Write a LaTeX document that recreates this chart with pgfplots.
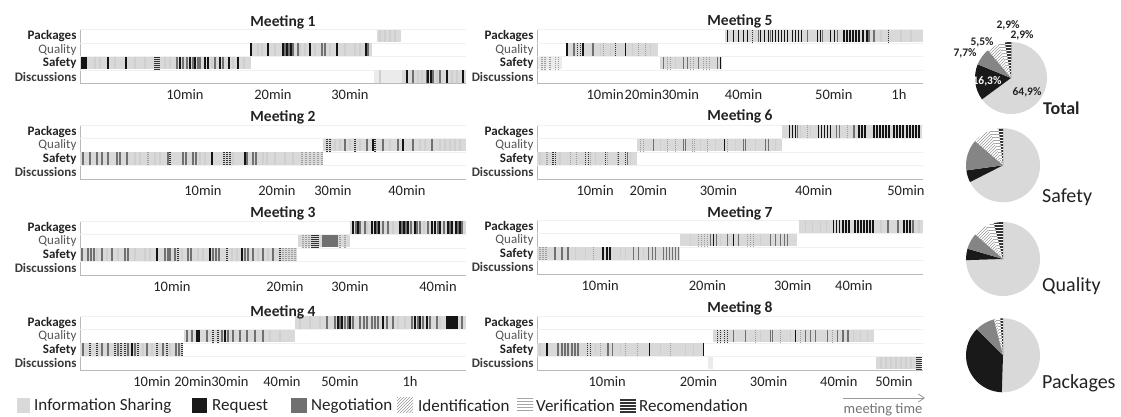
\documentclass[border=0pt]{standalone}
\usepackage{pgfplots}
\pgfplotsset{compat=1.18}
\usepackage{fontspec}
\setmainfont{Carlito}
\usetikzlibrary{patterns,arrows.meta}
\definecolor{infog}{HTML}{D9D9D9}
\definecolor{infoL}{HTML}{EBEBEB}
\definecolor{negg}{HTML}{707070}
\definecolor{piegray}{HTML}{858585}
\definecolor{discc}{HTML}{3A3A3A}
\definecolor{qualc}{HTML}{555555}
\definecolor{txt}{HTML}{222222}
\pgfplotsset{
  tl/.style={scale only axis, width=386pt, height=54pt, anchor=south west,
    ymin=0, ymax=4, ytick={0.5,1.5,2.5,3.5},
    yticklabels={{\textcolor{discc}{\bfseries Discussions}},{\bfseries Safety},{\textcolor{qualc}{Quality}},{\bfseries Packages}},
    yticklabel style={font=\fontsize{13}{13}\selectfont, text=txt},
    xticklabel style={font=\fontsize{14.5}{15}\selectfont, text=txt, yshift=-2.5pt},
    major tick length=0pt,
    axis x line*=bottom, axis y line*=left,
    axis line style={draw=gray!55, -},
    extra y ticks={1,2,3,4}, extra y tick labels={},
    extra y tick style={grid=major, major grid style={draw=gray!12}},
  },
  band/.style={draw=infog, line width=12.5pt, forget plot},
  bandL/.style={draw=infoL, line width=12.5pt, forget plot},
  stripe/.style={only marks, mark=|, mark size=6.25pt, forget plot},
  sR/.style={stripe, mark options={draw=black!92, line width=1.4pt, solid}},
  sN/.style={stripe, mark options={draw=negg, line width=1.4pt, solid}},
  sD/.style={stripe, mark options={draw=black!80, line width=1.1pt, dash pattern=on 1pt off 1pt}},
  sV/.style={stripe, mark options={draw=gray!75, line width=1.1pt, dash pattern=on 1pt off 1pt}},
  sT/.style={stripe, mark options={draw=gray!38, line width=1.2pt, solid}},
  pie/.style={hide axis, scale only axis, width=74pt, height=74pt, anchor=center,
    xmin=-1, xmax=1, ymin=-1, ymax=1, clip=false},
}
% one sector: radius, start percent, percent, style
\newcommand{\sector}[4]{\fill[#4] (axis cs:0,0) -- ++({90-3.6*(#2)}:#1pt) arc[start angle={90-3.6*(#2)}, end angle={90-3.6*((#2)+(#3))}, radius=#1pt] -- cycle;}
% pie: radius, info, request, negotiation, identification, verification, recomendation
\newcommand{\pie}[7]{%
  \sector{#1}{0}{#2}{infog}%
  \sector{#1}{#2}{#3}{black!90}%
  \sector{#1}{#2+#3}{#4}{piegray}%
  \sector{#1}{#2+#3+#4}{#5}{pattern=north east lines, pattern color=gray!80}%
  \sector{#1}{#2+#3+#4+#5}{#6}{pattern=horizontal lines, pattern color=gray!70}%
  \sector{#1}{#2+#3+#4+#5+#6}{#7}{black!80}%
  \sector{#1}{#2+#3+#4+#5+#6}{#7}{pattern=horizontal lines, pattern color=white}%
}
\begin{document}
\begin{tikzpicture}[x=1pt, y=1pt]
\useasboundingbox (0,0) rectangle (1121,417);

% ---------------- Meeting 1 ----------------
\begin{axis}[tl, at={(80pt,333.5pt)}, xmin=80, xmax=466,
  xtick={185,273,350}, xticklabels={10min,20min,30min}]
\addplot[band] coordinates {(80,1.5) (251,1.5)};
\addplot[band] coordinates {(250,2.5) (372,2.5)};
\addplot[band] coordinates {(377,3.5) (401,3.5)};
\addplot[bandL] coordinates {(374,0.5) (402,0.5)};
\addplot[band] coordinates {(402,0.5) (466,0.5)};
\addplot[sT] coordinates {(95,1.5)(100,1.5)(115,1.5)(135,1.5)(145,1.5)(165,1.5)(170,1.5)(212,1.5)(233,1.5)(244,1.5)
  (258,2.5)(262,2.5)(275,2.5)(300,2.5)(305,2.5)(315,2.5)(330,2.5)(345,2.5)(355,2.5)(360,2.5)
  (380,3.5)(385,3.5)(390,3.5)(395,3.5)
  (380,0.5)(418,0.5)(422,0.5)(437,0.5)(452,0.5)(457,0.5)};
\addplot[sN] coordinates {(177,1.5)(183,1.5)(187,1.5)(193,1.5)(198,1.5)(200,1.5)(215,1.5)(223,1.5)
  (285,2.5)(289,2.5)(293,2.5)(298,2.5)(322,2.5)(325,2.5)(368,2.5)
  (413,0.5)(427,0.5)(433,0.5)(440,0.5)};
\addplot[sD] coordinates {(155,1.5)(157,1.5)(159,1.5)};
\addplot[sR] coordinates {(82,1.5)(84,1.5)(86,1.5)(108,1.5)(126,1.5)(180,1.5)(190,1.5)(195,1.5)(205,1.5)(208,1.5)(220,1.5)(229,1.5)(238,1.5)
  (251,2.5)(268,2.5)(283,2.5)(287,2.5)(291,2.5)(310,2.5)(337,2.5)(366,2.5)
  (407,0.5)(428,0.5)(431,0.5)(447,0.5)(463,0.5)};
\end{axis}

% ---------------- Meeting 2 ----------------
\begin{axis}[tl, at={(80pt,238pt)}, xmin=80, xmax=466,
  xtick={203,277,333,407}, xticklabels={10min,20min,30min,40min}]
\addplot[band] coordinates {(80,1.5) (323,1.5)};
\addplot[band] coordinates {(323,2.5) (466,2.5)};
\addplot[sT] coordinates {(135,1.5)(140,1.5)(155,1.5)(160,1.5)(200,1.5)(205,1.5)(233,1.5)(263,1.5)(267,1.5)(275,1.5)(285,1.5)(293,1.5)
  (335,2.5)(340,2.5)(350,2.5)(360,2.5)(390,2.5)(420,2.5)(425,2.5)(440,2.5)(445,2.5)(450,2.5)(455,2.5)(460,2.5)};
\addplot[sV] coordinates {(148,1.5)(302,1.5)(306,1.5)(310,1.5)(314,1.5)(318,1.5)(322,1.5)};
\addplot[sN] coordinates {(83,1.5)(90,1.5)(97,1.5)(102,1.5)(108,1.5)(117,1.5)(120,1.5)(127,1.5)(168,1.5)(183,1.5)(186,1.5)(193,1.5)(196,1.5)(247,1.5)(253,1.5)(256,1.5)
  (345,2.5)(367,2.5)(383,2.5)(398,2.5)(413,2.5)(432,2.5)};
\addplot[sD] coordinates {(170,1.5)(224,1.5)(227,1.5)(230,1.5)
  (327,2.5)(330,2.5)(355,2.5)(375,2.5)};
\addplot[sR] coordinates {(212,1.5)(245,1.5)(373,2.5)(403,2.5)};
\end{axis}

% ---------------- Meeting 3 ----------------
\begin{axis}[tl, at={(80pt,142pt)}, xmin=80, xmax=466,
  xtick={172,285,350,438}, xticklabels={10min,20min,30min,40min}]
\addplot[band] coordinates {(80,1.5) (297,1.5)};
\addplot[band] coordinates {(298,2.5) (350,2.5)};
\addplot[band] coordinates {(350,3.5) (466,3.5)};
\addplot[sT] coordinates {(97,1.5)(107,1.5)(118,1.5)(135,1.5)(145,1.5)(150,1.5)(182,1.5)(198,1.5)(203,1.5)(232,1.5)(237,1.5)(258,1.5)(268,1.5)
  (367,3.5)(393,3.5)(424,3.5)};
\addplot[sV] coordinates {(283,1.5)(286,1.5)(289,1.5)(292,1.5)(295,1.5)
  (303,2.5)(306,2.5)(309,2.5)(340,2.5)(345,2.5)};
\addplot[sN] coordinates {(82,1.5)(88,1.5)(91,1.5)(94,1.5)(102,1.5)(112,1.5)(125,1.5)(128,1.5)(165,1.5)(168,1.5)(170,1.5)(175,1.5)(188,1.5)(191,1.5)(213,1.5)(216,1.5)(219,1.5)(245,1.5)(248,1.5)(253,1.5)(263,1.5)(273,1.5)
  (323,2.5)(325,2.5)(327,2.5)(329,2.5)(331,2.5)(333,2.5)(335,2.5)(337,2.5)
  (356,3.5)(360,3.5)(365,3.5)(377,3.5)(383,3.5)(388,3.5)(402,3.5)(406,3.5)(411,3.5)(417,3.5)(420,3.5)(428,3.5)(438,3.5)(444,3.5)(450,3.5)(458,3.5)(462,3.5)};
\addplot[sD] coordinates {(178,1.5)(227,1.5)(280,1.5)
  (312,2.5)(314,2.5)(316,2.5)(318,2.5)};
\addplot[sR] coordinates {(157,1.5)(210,1.5)(242,1.5)
  (353,3.5)(358,3.5)(372,3.5)(375,3.5)(379,3.5)(400,3.5)(404,3.5)(408,3.5)(415,3.5)(432,3.5)(435,3.5)(440,3.5)(448,3.5)(452,3.5)(456,3.5)(460,3.5)};
\end{axis}

% ---------------- Meeting 4 ----------------
\begin{axis}[tl, at={(80pt,47pt)}, xmin=80, xmax=466,
  xtick={152,193,230,282,340,410}, xticklabels={10min,20min,30min,40min,50min,1h}]
\addplot[band] coordinates {(80,1.5) (183,1.5)};
\addplot[band] coordinates {(184,2.5) (295,2.5)};
\addplot[band] coordinates {(295,3.5) (466,3.5)};
\addplot[sT] coordinates {(143,1.5)(152,1.5)(170,1.5)(270,2.5)(280,2.5)
  (300,3.5)(310,3.5)(320,3.5)(398,3.5)(405,3.5)(440,3.5)};
\addplot[sD] coordinates {(90,1.5)(97,1.5)(115,1.5)(121,1.5)(125,1.5)(138,1.5)(157,1.5)(167,1.5)(182,1.5)
  (213,2.5)(218,2.5)};
\addplot[sN] coordinates {(83,1.5)(102,1.5)(108,1.5)(118,1.5)(128,1.5)(135,1.5)(147,1.5)(163,1.5)(176,1.5)(179,1.5)
  (187,2.5)(192,2.5)(207,2.5)(222,2.5)(228,2.5)(233,2.5)(240,2.5)(247,2.5)(255,2.5)(263,2.5)
  (327,3.5)(335,3.5)(340,3.5)(345,3.5)(348,3.5)(353,3.5)(360,3.5)(364,3.5)(367,3.5)(372,3.5)(375,3.5)(378,3.5)(387,3.5)(393,3.5)(412,3.5)(418,3.5)(423,3.5)(430,3.5)(437,3.5)(462,3.5)};
\addplot[sR] coordinates {(132,1.5)(197,2.5)(199,2.5)(225,2.5)
  (338,3.5)(342,3.5)(350,3.5)(383,3.5)(415,3.5)(420,3.5)(427,3.5)(447,3.5)(449,3.5)(451,3.5)(453,3.5)(455,3.5)(457,3.5)};
\end{axis}

% ---------------- Meeting 5 ----------------
\begin{axis}[tl, at={(537pt,333.5pt)}, xmin=537, xmax=922,
  xtick={605,643,680,743,833,898}, xticklabels={10min,20min,30min,40min,50min,1h}]
\addplot[bandL] coordinates {(538,1.5) (562,1.5)};
\addplot[band] coordinates {(660,1.5) (722,1.5)};
\addplot[band] coordinates {(566,2.5) (658,2.5)};
\addplot[band] coordinates {(725,3.5) (922,3.5)};
\addplot[sT] coordinates {(600,2.5)(610,2.5)(632,2.5)(650,2.5)(675,1.5)(880,3.5)(900,3.5)(910,3.5)};
\addplot[sV] coordinates {(542,1.5)(545,1.5)(550,1.5)(555,1.5)(558,1.5)(667,1.5)(670,1.5)(690,1.5)(693,1.5)(703,1.5)(706,1.5)(709,1.5)
  (603,2.5)(638,2.5)(645,2.5)};
\addplot[sN] coordinates {(663,1.5)(683,1.5)(687,1.5)(698,1.5)(717,1.5)
  (574,2.5)(593,2.5)
  (758,3.5)(770,3.5)(807,3.5)(822,3.5)(837,3.5)(868,3.5)(873,3.5)};
\addplot[sD] coordinates {(577,2.5)(580,2.5)(615,2.5)(752,3.5)(888,3.5)};
\addplot[sR] coordinates {(720,1.5)(567,2.5)(583,2.5)(625,2.5)
  (727,3.5)(733,3.5)(738,3.5)(743,3.5)(747,3.5)(760,3.5)(764,3.5)(768,3.5)(772,3.5)(775,3.5)(778,3.5)(781,3.5)(784,3.5)(787,3.5)(792,3.5)(795,3.5)(798,3.5)(801,3.5)(817,3.5)(820,3.5)(830,3.5)(834,3.5)(843,3.5)(846,3.5)(849,3.5)(852,3.5)(855,3.5)(858,3.5)(862,3.5)(866,3.5)};
\end{axis}

% ---------------- Meeting 6 ----------------
\begin{axis}[tl, at={(537pt,238pt)}, xmin=537, xmax=922,
  xtick={595,648,718,813,905}, xticklabels={10min,20min,30min,40min,50min}]
\addplot[band] coordinates {(537,1.5) (637,1.5)};
\addplot[band] coordinates {(637,2.5) (781,2.5)};
\addplot[band] coordinates {(781,3.5) (921,3.5)};
\addplot[sT] coordinates {(540,1.5)(560,1.5)(595,1.5)(630,1.5)
  (660,2.5)(700,2.5)(715,2.5)(735,2.5)(755,2.5)(775,2.5)(800,3.5)(810,3.5)};
\addplot[sV] coordinates {(547,1.5)(570,1.5)(576,1.5)(590,1.5)(607,1.5)(617,1.5)
  (640,2.5)(643,2.5)(667,2.5)(675,2.5)(692,2.5)(694,2.5)(707,2.5)(727,2.5)(807,3.5)(847,3.5)};
\addplot[sD] coordinates {(553,1.5)(555,1.5)(585,1.5)(588,1.5)(605,1.5)(618,1.5)(625,1.5)};
\addplot[sN] coordinates {(627,1.5)(653,2.5)(683,2.5)(685,2.5)(743,2.5)(745,2.5)(765,2.5)(768,2.5)
  (797,3.5)(836,3.5)(839,3.5)(853,3.5)};
\addplot[sR] coordinates {(724,2.5)
  (789,3.5)(792,3.5)(795,3.5)(818,3.5)(821,3.5)(824,3.5)(827,3.5)(830,3.5)(858,3.5)(861,3.5)(864,3.5)
  (873,3.5)(876,3.5)(879,3.5)(882,3.5)(885,3.5)(888,3.5)(893,3.5)(896,3.5)(899,3.5)(902,3.5)(906,3.5)(909,3.5)(912,3.5)(915,3.5)(918,3.5)};
\end{axis}

% ---------------- Meeting 7 ----------------
\begin{axis}[tl, at={(537pt,143pt)}, xmin=537, xmax=922,
  xtick={600,707,792,853}, xticklabels={10min,20min,30min,40min}]
\addplot[band] coordinates {(537,1.5) (680,1.5)};
\addplot[band] coordinates {(680,2.5) (796,2.5)};
\addplot[band] coordinates {(798,3.5) (922,3.5)};
\addplot[sT] coordinates {(575,1.5)(585,1.5)(620,1.5)(625,1.5)(643,1.5)(690,2.5)(720,2.5)(760,2.5)
  (805,3.5)(812,3.5)(820,3.5)(826,3.5)(880,3.5)(918,3.5)};
\addplot[sV] coordinates {(540,1.5)(543,1.5)(546,1.5)(593,1.5)
  (698,2.5)(701,2.5)(704,2.5)(707,2.5)(747,2.5)(750,2.5)(753,2.5)};
\addplot[sN] coordinates {(555,1.5)(562,1.5)(568,1.5)(633,1.5)(638,1.5)(648,1.5)(652,1.5)(655,1.5)(663,1.5)(666,1.5)(669,1.5)(672,1.5)(675,1.5)(678,1.5)
  (710,2.5)(716,2.5)(727,2.5)(738,2.5)(770,2.5)(775,2.5)(780,2.5)(784,2.5)(787,2.5)
  (887,3.5)(897,3.5)(912,3.5)};
\addplot[sR] coordinates {(603,1.5)(607,1.5)(610,1.5)(713,2.5)(733,2.5)
  (833,3.5)(836,3.5)(839,3.5)(842,3.5)(845,3.5)(848,3.5)(854,3.5)(857,3.5)(860,3.5)(863,3.5)(866,3.5)(869,3.5)(872,3.5)(903,3.5)(906,3.5)(909,3.5)};
\end{axis}

% ---------------- Meeting 8 ----------------
\begin{axis}[tl, at={(537pt,47pt)}, xmin=537, xmax=922,
  xtick={607,698,768,838,893}, xticklabels={10min,20min,30min,40min,50min}]
\addplot[band] coordinates {(537,1.5) (703,1.5)};
\addplot[bandL] coordinates {(708,0.5) (713,0.5)};
\addplot[band] coordinates {(713,2.5) (873,2.5)};
\addplot[band] coordinates {(875,0.5) (920,0.5)};
\addplot[sT] coordinates {(540,1.5)(595,1.5)(620,1.5)(660,1.5)(685,1.5)(693,1.5)
  (760,2.5)(790,2.5)(853,2.5)(860,2.5)(867,2.5)
  (880,0.5)(885,0.5)(890,0.5)(895,0.5)(900,0.5)(905,0.5)(910,0.5)};
\addplot[sV] coordinates {(600,1.5)(625,1.5)(637,1.5)(670,1.5)(755,2.5)(780,2.5)(800,2.5)(832,2.5)};
\addplot[sN] coordinates {(558,1.5)(562,1.5)(565,1.5)(568,1.5)(572,1.5)(575,1.5)(578,1.5)(608,1.5)(612,1.5)
  (733,2.5)(745,2.5)(770,2.5)(772,2.5)(805,2.5)(810,2.5)(815,2.5)(827,2.5)(837,2.5)(842,2.5)(847,2.5)};
\addplot[sD] coordinates {(587,1.5)(590,1.5)(717,2.5)(720,2.5)(724,2.5)(727,2.5)(916,0.5)(918,0.5)(920,0.5)};
\addplot[sR] coordinates {(547,1.5)(649,1.5)(703,1.5)(795,2.5)};
\end{axis}

% titles
\begin{scope}[every node/.style={font=\bfseries\fontsize{15.5}{16}\selectfont, text=txt}]
\node at (283,395) {Meeting 1};
\node at (283,300) {Meeting 2};
\node at (283,204) {Meeting 3};
\node at (283,105) {Meeting 4};
\node at (740,396) {Meeting 5};
\node at (740,301) {Meeting 6};
\node at (740,204) {Meeting 7};
\node at (740,109) {Meeting 8};
\end{scope}

% ---------------- Pies ----------------
\begin{axis}[pie, at={(1011pt,339pt)}]
\addplot[draw=none] coordinates {(0,0)};
\pie{36}{64.9}{16.3}{7.7}{5.5}{2.9}{2.9}
\end{axis}
\begin{axis}[pie, at={(1003pt,251.7pt)}]
\addplot[draw=none] coordinates {(0,0)};
\pie{37}{67.5}{5.3}{13.5}{7.8}{4}{2}
\end{axis}
\begin{axis}[pie, at={(1003pt,158pt)}]
\addplot[draw=none] coordinates {(0,0)};
\pie{37}{74.5}{5}{7}{6}{3.5}{4}
\end{axis}
\begin{axis}[pie, at={(1003pt,61.7pt)}]
\addplot[draw=none] coordinates {(0,0)};
\pie{37}{50.5}{37}{8.5}{1.2}{1.6}{1.2}
\end{axis}

\begin{scope}[every node/.style={font=\bfseries\fontsize{11.5}{12}\selectfont, text=txt, inner sep=0pt}]
\node at (1008,392) {2,9\%};
\node at (1022,382) {2,9\%};
\node at (982,375) {5,5\%};
\node at (965,364) {7,7\%};
\node[text=white] at (987,336) {16,3\%};
\node at (1027,325) {64,9\%};
\end{scope}
\node[anchor=west, inner sep=0pt, font=\bfseries\fontsize{18}{18}\selectfont, text=txt] at (1043,309) {Total};
\node[anchor=west, inner sep=0pt, font=\fontsize{20}{20}\selectfont, text=txt] at (1042,220) {Safety};
\node[anchor=west, inner sep=0pt, font=\fontsize{20}{20}\selectfont, text=txt] at (1042,131) {Quality};
\node[anchor=west, inner sep=0pt, font=\fontsize{20}{20}\selectfont, text=txt] at (1042,34) {Packages};

% ---------------- Legend ----------------
\begin{scope}[every node/.style={anchor=west, inner sep=0pt, font=\fontsize{17}{18}\selectfont, text=txt}]
\fill[infog] (17,4) rectangle (30,19);
\node at (34,11) {Information Sharing};
\fill[black!90] (192,4) rectangle (207,19);
\node at (212,11) {Request};
\fill[negg] (291,4) rectangle (307,19);
\node at (311,11) {Negotiation};
\fill[pattern=north east lines, pattern color=gray!80] (397,4) rectangle (413,19);
\node at (418,11) {Identification};
\fill[pattern=horizontal lines, pattern color=gray!70] (517,4) rectangle (533,19);
\node at (536,11) {Verification};
\fill[black!80] (620,4) rectangle (636,19);
\fill[pattern=horizontal lines, pattern color=white] (620,4) rectangle (636,19);
\node at (639,11) {Recomendation};
\end{scope}
\draw[gray!80, line width=0.8pt, -{Straight Barb[length=6pt, width=8pt]}] (843,19) -- (925,19);
\node[font=\fontsize{14.5}{15}\selectfont, text=gray!90!black] at (883,7) {meeting time};
\end{tikzpicture}
\end{document}
